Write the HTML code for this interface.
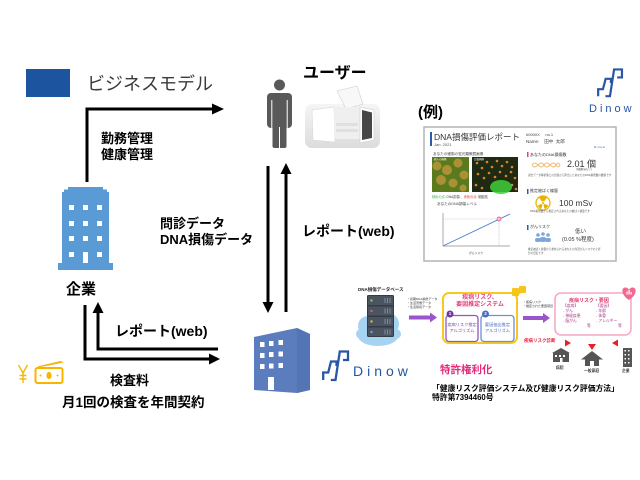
<!DOCTYPE html>
<html><head><meta charset="utf-8">
<style>
html,body{margin:0;padding:0;background:#fff;}
#r{position:relative;width:640px;height:480px;overflow:hidden;background:#fff;font-family:"Liberation Sans","Noto Sans CJK JP",sans-serif;}
.t{position:absolute;white-space:nowrap;line-height:1;color:#000;}
.b{font-weight:bold;}
.c{text-align:center;}
svg{position:absolute;left:0;top:0;}
</style></head><body><div id="r">
<svg width="640" height="480" viewBox="0 0 640 480">
<defs>
<linearGradient id="gbg" x1="0" y1="0" x2="0" y2="1"><stop offset="0" stop-color="#f5f5f5"/><stop offset="1" stop-color="#dcdcdc"/></linearGradient>
</defs>
<rect x="26" y="69" width="44" height="28" fill="#1d54a0"/>

<g stroke="#000" stroke-width="3" fill="none">
<polyline points="87,182 87,109 214,109"/>
<line x1="268" y1="166" x2="268" y2="303"/>
<line x1="286" y1="312" x2="286" y2="174"/>
<polyline points="85,305 85,359 210,359"/>
<polyline points="218,349 98,349 98,312"/>
</g>
<g fill="#000">
<polygon points="212,103.5 224,109 212,114.5"/>
<polygon points="262.5,302 273.5,302 268,313"/>
<polygon points="280.5,174 291.5,174 286,163"/>
<polygon points="209,353.5 220,359 209,364.5"/>
<polygon points="92.5,313 103.5,313 98,302"/>
</g>

<path d="M68,187 H103 V189.5 H107 V192 H109 V263 H113 V270 H58 V263 H62 V192 H64 V189.5 H68 Z" fill="#5b9bd5"/>
<g fill="#fff">
<rect x="69" y="205" width="5" height="5"/><rect x="83" y="205" width="5" height="5"/><rect x="97" y="205" width="5" height="5"/>
<rect x="69" y="221" width="5" height="5"/><rect x="83" y="221" width="5" height="5"/><rect x="97" y="221" width="5" height="5"/>
<rect x="69" y="236" width="5" height="5"/><rect x="83" y="236" width="5" height="5"/><rect x="97" y="236" width="5" height="5"/>
<rect x="69" y="252" width="5" height="5"/><rect x="83" y="252" width="5" height="11"/><rect x="97" y="252" width="5" height="5"/>
</g>

<g fill="#595959">
<circle cx="279.5" cy="85" r="5.5"/>
<rect x="267" y="93" width="25" height="35" rx="4"/>
<rect x="272.5" y="115" width="14" height="33" rx="2"/>
</g>
<g fill="#fff">
<rect x="271.3" y="100" width="1" height="29"/>
<rect x="286.7" y="100" width="1" height="29"/>
<rect x="279" y="127" width="1" height="22"/>
</g>

<rect x="305" y="104" width="75" height="44" rx="7" fill="url(#gbg)"/>
<polygon points="337,91 357,86 363,104 346,109" fill="#f8f8f8" stroke="#cfcfcf" stroke-width="0.6"/>
<polygon points="312,110 334,107 335,142 313,140" fill="#fff" stroke="#d8d8d8" stroke-width="0.6"/>
<rect x="334" y="107" width="26" height="32" fill="#efefef"/>
<rect x="336" y="123" width="22" height="3" fill="#e0e0e0"/>
<rect x="336" y="129" width="22" height="3" fill="#e0e0e0"/>
<polygon points="360,107 374,110 374,140 360,143" fill="#fff" stroke="#cccccc" stroke-width="0.6"/>
<polygon points="362,110 372,112.5 372,138 362,140" fill="#474747"/>

<g stroke="#f7b500" stroke-width="1.4" fill="none">
<polyline points="18.5,365 23,373 27.5,365"/>
<line x1="23" y1="373" x2="23" y2="383"/>
<line x1="19.5" y1="375.5" x2="26.5" y2="375.5"/>
<line x1="19.5" y1="379" x2="26.5" y2="379"/>
<line x1="38" y1="367" x2="61" y2="361.5"/>
<line x1="43" y1="366" x2="63" y2="362"/>
<rect x="35.5" y="368" width="27" height="15" rx="2" stroke-width="2" fill="#fff"/>
</g>
<g fill="#f7b500">
<ellipse cx="49" cy="375.5" rx="2.6" ry="3.6"/>
<circle cx="40.5" cy="375.5" r="1"/><circle cx="57.5" cy="375.5" r="1"/>
</g>

<polygon points="254,337 297,328 310,334 310,390 297,393 254,390" fill="#5b7dbd"/>
<polygon points="297,328 310,334 310,390 297,393" fill="#5474b3"/>
<g fill="#fff">
<rect x="260" y="342" width="4.5" height="5"/><rect x="269" y="341" width="4.5" height="5"/><rect x="278.5" y="340" width="4.5" height="5"/>
<rect x="260" y="353" width="4.5" height="5"/><rect x="269" y="352" width="4.5" height="5"/><rect x="278.5" y="351.5" width="4.5" height="5"/>
<rect x="260" y="364" width="4.5" height="5"/><rect x="269" y="363.5" width="4.5" height="5"/><rect x="278.5" y="363" width="4.5" height="5"/>
<rect x="268" y="377" width="6" height="13"/>
</g>

<g fill="none" stroke="#2957a6" stroke-width="2.3" stroke-linejoin="miter">
<g transform="translate(322,350)">
<path d="M1.2,30 V22.5 H6.2 L9,11.5 H14.5 V16"/>
<path d="M8.8,30 H13.5 L17.8,1.5 H26 V10 H21"/>
</g>
<g transform="translate(597,68) scale(0.96,0.94)">
<path d="M1.2,30 V22.5 H6.2 L9,11.5 H14.5 V16"/>
<path d="M8.8,30 H13.5 L17.8,1.5 H26 V10 H21"/>
</g>
<g transform="translate(599,133) scale(0.38,0.36)" stroke-width="3.5">
<path d="M1.2,30 V22.5 H6.2 L9,11.5 H14.5 V16"/>
<path d="M8.8,30 H13.5 L17.8,1.5 H26 V10 H21"/>
</g>
</g>

<rect x="424" y="127" width="192" height="134" fill="#fff" stroke="#b3b3b3" stroke-width="1.5"/>
<rect x="430" y="132" width="2" height="14" fill="#2a5ca8"/>
<rect x="432" y="157" width="37" height="35" fill="#5a7a1e"/>
<g fill="#c8983e" opacity="0.75">
<circle cx="437" cy="166" r="4.5"/><circle cx="447" cy="170" r="5"/><circle cx="458" cy="163" r="4.5"/>
<circle cx="441" cy="180" r="5"/><circle cx="453" cy="183" r="4.5"/><circle cx="464" cy="175" r="4.5"/><circle cx="463" cy="188" r="3.5"/>
</g>
<rect x="472" y="157" width="46" height="35" fill="#1e2a12"/>
<ellipse cx="501" cy="187" rx="11" ry="7" fill="#3fcf3a" opacity="0.85"/>
<g fill="#d8852c">
<circle cx="477" cy="163" r="1.3"/><circle cx="482" cy="168" r="1.3"/><circle cx="487" cy="162" r="1.3"/><circle cx="492" cy="167" r="1.3"/>
<circle cx="497" cy="161" r="1.3"/><circle cx="502" cy="166" r="1.3"/><circle cx="507" cy="162" r="1.3"/><circle cx="512" cy="167" r="1.3"/>
<circle cx="478" cy="174" r="1.3"/><circle cx="484" cy="178" r="1.3"/><circle cx="489" cy="173" r="1.3"/><circle cx="495" cy="177" r="1.3"/>
<circle cx="500" cy="172" r="1.3"/><circle cx="506" cy="176" r="1.3"/><circle cx="511" cy="172" r="1.3"/><circle cx="515" cy="178" r="1.3"/>
<circle cx="476" cy="185" r="1.3"/><circle cx="482" cy="188" r="1.3"/><circle cx="512" cy="185" r="1.3"/><circle cx="516" cy="189" r="1.3"/>
</g>
<g stroke="#555" stroke-width="0.5">
<line x1="443" y1="213" x2="443" y2="246"/><line x1="443" y1="246" x2="510" y2="246"/>
</g>
<g stroke="#f0a0b8" stroke-width="0.6" stroke-dasharray="1.2,0.8">
<line x1="443" y1="219" x2="499" y2="219"/><line x1="499" y1="219" x2="499" y2="246"/>
</g>
<line x1="443" y1="246" x2="510" y2="214" stroke="#4a7cc8" stroke-width="0.9"/>
<circle cx="499" cy="219" r="2" fill="#f7c5d5" stroke="#e0407a" stroke-width="0.7"/>
<rect x="527" y="152" width="1.5" height="5" fill="#e0407a"/>
<rect x="527" y="189" width="1.5" height="5" fill="#2a5ca8"/>
<rect x="527" y="225" width="1.5" height="5" fill="#2a5ca8"/>
<g fill="none" stroke="#efc070" stroke-width="1">
<path d="M532,165 C536,158 540,172 544,165 C548,158 552,172 556,165 C558,162 559,163 560,165"/>
<path d="M532,165 C536,172 540,158 544,165 C548,172 552,158 556,165 C558,168 559,167 560,165"/>
</g>
<circle cx="543" cy="203" r="7" fill="#fff" stroke="#f0b400" stroke-width="1.3"/>
<g fill="#e8b000">
<path d="M543,203 L539,197.5 A6,6 0 0 1 547,197.5 Z"/>
<path d="M543,203 L548,206 A6,6 0 0 1 544,209 Z" transform="rotate(-5 543 203)"/>
<path d="M543,203 L542,209 A6,6 0 0 1 538,206 Z" transform="rotate(5 543 203)"/>
</g>
<circle cx="543" cy="203" r="1.8" fill="#fff"/>
<circle cx="543" cy="203" r="1" fill="#e8b000"/>
<g fill="#7fa6d9">
<circle cx="538" cy="235" r="1.8"/><circle cx="543" cy="234" r="1.8"/><circle cx="548" cy="235" r="1.8"/>
<rect x="535" y="238" width="6" height="4" rx="2"/><rect x="540" y="237" width="6" height="5" rx="2"/><rect x="545" y="238" width="6" height="4" rx="2"/>
</g>

<g fill="#a7d3f2">
<ellipse cx="378" cy="336" rx="20" ry="10"/>
<circle cx="368" cy="326" r="10"/><circle cx="388" cy="324" r="11"/><circle cx="378" cy="314" r="10"/>
<circle cx="361" cy="334" r="5"/><circle cx="396" cy="334" r="5"/>
</g>
<rect x="367" y="295" width="27" height="42" rx="1.5" fill="#333b45"/>
<g fill="#4b5562">
<rect x="368" y="296" width="25" height="9"/><rect x="368" y="306.5" width="25" height="9"/>
<rect x="368" y="317" width="25" height="9"/><rect x="368" y="327.5" width="25" height="8.5"/>
</g>
<circle cx="371.5" cy="300.5" r="1.2" fill="#7ccf4a"/><circle cx="371.5" cy="311" r="1.2" fill="#e85a5a"/>
<circle cx="371.5" cy="321.5" r="1.2" fill="#f0b020"/><circle cx="371.5" cy="332" r="1.2" fill="#7a9ae0"/>
<g stroke="#aab2bc" stroke-width="0.6">
<path d="M385,298 v5 M387.5,298 v5 M390,298 v5 M385,308.5 v5 M387.5,308.5 v5 M390,308.5 v5 M385,319 v5 M387.5,319 v5 M390,319 v5 M385,329.5 v5 M387.5,329.5 v5 M390,329.5 v5"/>
</g>
<g fill="#9a55cc">
<rect x="409" y="315.5" width="21" height="4"/>
<polygon points="430,312.5 437,317.5 430,322.5"/>
<rect x="523" y="316" width="20" height="4"/>
<polygon points="543,313 550,318 543,323"/>
</g>
<rect x="443" y="293" width="74" height="50" rx="6" fill="#fff" stroke="#f8c820" stroke-width="2"/>
<rect x="446" y="315.5" width="32" height="26" rx="3" fill="#fff" stroke="#8d5bb8" stroke-width="1.3"/>
<rect x="481" y="315.5" width="33" height="26" rx="3" fill="#fff" stroke="#6c8fd6" stroke-width="1.3"/>
<circle cx="450" cy="314" r="3.5" fill="#6b3a9a"/>
<circle cx="485.5" cy="314" r="3.5" fill="#4a6cc0"/>
<g fill="#f7c51a">
<rect x="512" y="288" width="7" height="8" rx="1"/><rect x="519" y="286" width="7" height="7" rx="1"/>
<circle cx="519" cy="292" r="2"/>
</g>
<rect x="555" y="293" width="76" height="42" rx="6" fill="#fff" stroke="#f4a6c6" stroke-width="1.5"/>
<path d="M629,300 C621,295 621,288 625,287.5 C627,287.3 628.5,288.5 629,290 C629.5,288.5 631,287.3 633,287.5 C637,288 637,295 629,300 Z" fill="#f06a90"/>
<g fill="#fff"><rect x="626.5" y="291.5" width="1.2" height="3"/><rect x="628.5" y="290" width="1.2" height="4.5"/><rect x="630.5" y="292" width="1.2" height="2.5"/></g>
<g fill="#e8202a">
<polygon points="565,339.5 571,343 565,346.5"/>
<polygon points="588,344 596,344 592,350"/>
<polygon points="618,339.5 618,346.5 612,343"/>
</g>
<g fill="#555">
<polygon points="561,348 552,353 570,353"/>
<rect x="553" y="353" width="16" height="9"/>
<polygon points="592,351 581,359.5 603,359.5"/>
<rect x="585" y="359" width="14" height="7"/>
<rect x="623" y="348" width="9" height="19"/>
</g>
<g fill="#fff">
<rect x="555" y="355" width="2" height="2"/><rect x="559" y="355" width="2" height="2"/><rect x="563" y="355" width="2" height="2"/>
<rect x="560" y="358" width="2.5" height="4"/>
<rect x="590" y="361" width="4" height="5"/>
<rect x="624.5" y="350" width="1.5" height="1.5"/><rect x="628" y="350" width="1.5" height="1.5"/>
<rect x="624.5" y="354" width="1.5" height="1.5"/><rect x="628" y="354" width="1.5" height="1.5"/>
<rect x="624.5" y="358" width="1.5" height="1.5"/><rect x="628" y="358" width="1.5" height="1.5"/>
<rect x="624.5" y="362" width="1.5" height="1.5"/><rect x="628" y="362" width="1.5" height="1.5"/>
</g>
</svg>

<div class="t" style="left:87px;top:75px;font-size:18px;color:#3a3a3a;">ビジネスモデル</div>
<div class="t b" style="left:101px;top:131.5px;font-size:13px;">勤務管理</div>
<div class="t b" style="left:101px;top:147.5px;font-size:13px;">健康管理</div>
<div class="t b" style="left:160px;top:216.5px;font-size:13px;">問診データ</div>
<div class="t b" style="left:160px;top:232.5px;font-size:13px;">DNA損傷データ</div>
<div class="t b" style="left:303px;top:65.5px;font-size:16px;">ユーザー</div>
<div class="t b" style="left:418px;top:105px;font-size:15px;">(例)</div>
<div class="t b" style="left:302px;top:223.5px;font-size:14px;">レポート(web)</div>
<div class="t b" style="left:66px;top:281.5px;font-size:15px;">企業</div>
<div class="t b" style="left:115px;top:323.5px;font-size:14px;">レポート(web)</div>
<div class="t b" style="left:110px;top:374px;font-size:13px;">検査料</div>
<div class="t b" style="left:62px;top:395.5px;font-size:13.5px;">月1回の検査を年間契約</div>
<div class="t" style="left:353px;top:364px;font-size:14px;letter-spacing:4px;color:#2455a4;">Dinow</div>
<div class="t" style="left:589px;top:103.5px;font-size:11px;letter-spacing:3px;color:#2455a4;">Dinow</div>
<div class="t b" style="left:440px;top:365px;font-size:10.5px;color:#e5287a;">特許権利化</div>
<div class="t b" style="left:432px;top:384.5px;font-size:7.8px;">「健康リスク評価システム及び健康リスク評価方法」</div>
<div class="t b" style="left:432px;top:393.5px;font-size:7.8px;">特許第7394460号</div>

<div class="t" style="left:434px;top:133px;font-size:8.5px;color:#333;">DNA損傷評価レポート</div>
<div class="t" style="left:434px;top:142.5px;font-size:4px;color:#555;">Jan. 2021</div>
<div class="t" style="left:526px;top:133px;font-size:4px;color:#444;">#0000X&nbsp;&nbsp;&nbsp;&nbsp;&nbsp;no.1</div>
<div class="t" style="left:526px;top:140px;font-size:4.5px;color:#444;">Name:&nbsp;&nbsp;&nbsp;&nbsp;田中&nbsp;&nbsp;太郎</div>
<div class="t" style="left:594px;top:146px;font-size:3px;letter-spacing:0.6px;color:#2455a4;">Dinow</div>
<div class="t" style="left:433px;top:152.5px;font-size:3.6px;color:#444;">あなたの細胞の蛍光顕微鏡画像</div>
<div class="t" style="left:434px;top:159px;font-size:2.5px;color:#fff;">個人の画像</div>
<div class="t" style="left:474px;top:159px;font-size:2.5px;color:#fff;">比較画像</div>
<div class="t" style="left:432px;top:195.5px;font-size:3.2px;color:#444;"><span style="color:#3bb03b">緑色の点</span>: DNA損傷 、<span style="color:#e03030">赤色の点</span>: 細胞核</div>
<div class="t" style="left:437px;top:202.5px;font-size:3.6px;color:#444;">あなたのDNA損傷レベル</div>
<div class="t" style="left:469px;top:251.5px;font-size:2.8px;color:#444;">がんリスク</div>
<div class="t" style="left:530px;top:152.5px;font-size:4px;color:#333;">あなたのDNA損傷数</div>
<div class="t" style="left:567px;top:160px;font-size:9px;color:#333;">2.01 個</div>
<div class="t" style="left:576px;top:169px;font-size:2.5px;color:#444;">(1細胞当たり)</div>
<div class="t" style="left:528px;top:175px;font-size:2.6px;color:#555;">過去データ解析値との比較から算出したあなたのDNA損傷数の数値です</div>
<div class="t" style="left:530px;top:189px;font-size:4px;color:#333;">推定被ばく線量</div>
<div class="t" style="left:559px;top:199px;font-size:8.5px;color:#333;">100 mSv</div>
<div class="t" style="left:530px;top:211px;font-size:2.6px;color:#555;">DNA損傷数から推定されるあなたの被ばく線量です</div>
<div class="t" style="left:530px;top:225px;font-size:4px;color:#333;">がんリスク</div>
<div class="t" style="left:575px;top:230px;font-size:5.5px;color:#333;">低い</div>
<div class="t" style="left:562px;top:237.5px;font-size:5.5px;color:#333;">(0.05 %程度)</div>
<div class="t" style="left:528px;top:249px;font-size:2.6px;color:#555;">推定被ばく線量から求められるあなたの生涯がんリスクの上昇</div>
<div class="t" style="left:528px;top:252.5px;font-size:2.6px;color:#555;">分の目安です</div>

<div class="t b" style="left:358px;top:288px;font-size:4.5px;color:#222;">DNA損傷データベース</div>
<div class="t" style="left:407px;top:297.5px;font-size:3px;color:#333;">・初期DNA損傷データ</div>
<div class="t" style="left:407px;top:301.5px;font-size:3px;color:#333;">・生活習慣データ</div>
<div class="t" style="left:407px;top:305.5px;font-size:3px;color:#333;">・生活環境データ</div>
<div class="t b c" style="left:443px;top:295px;width:74px;font-size:6px;color:#e0407a;">疾病リスク、</div>
<div class="t b c" style="left:443px;top:301.5px;width:74px;font-size:6px;color:#e0407a;">要因推定システム</div>
<div class="t b c" style="left:446px;top:312px;width:8px;font-size:4.5px;color:#fff;">1</div>
<div class="t b c" style="left:481.5px;top:312px;width:8px;font-size:4.5px;color:#fff;">2</div>
<div class="t c" style="left:446px;top:323px;width:32px;font-size:4.2px;color:#7a4aa8;">疾病リスク推定</div>
<div class="t c" style="left:446px;top:329px;width:32px;font-size:4.2px;color:#7a4aa8;">アルゴリズム</div>
<div class="t c" style="left:481px;top:323px;width:33px;font-size:4.2px;color:#4a6cc0;">要因抽出推定</div>
<div class="t c" style="left:481px;top:329px;width:33px;font-size:4.2px;color:#4a6cc0;">アルゴリズム</div>
<div class="t" style="left:523px;top:301px;font-size:3px;color:#333;">・疾病リスク</div>
<div class="t" style="left:523px;top:304.5px;font-size:3px;color:#333;">・推定された要因項目</div>
<div class="t b" style="left:569px;top:298.5px;font-size:5px;color:#e03a6a;">疾病リスク・要因</div>
<div class="t" style="left:563px;top:304.5px;font-size:3.8px;color:#a8408a;">【疾病】</div>
<div class="t" style="left:563px;top:309.5px;font-size:3.8px;color:#a8408a;">- がん</div>
<div class="t" style="left:563px;top:314.5px;font-size:3.8px;color:#a8408a;">- 神経疾患</div>
<div class="t" style="left:563px;top:319.5px;font-size:3.8px;color:#a8408a;">- 脳がん</div>
<div class="t" style="left:587px;top:325px;font-size:3.8px;color:#a8408a;">等</div>
<div class="t" style="left:596px;top:304.5px;font-size:3.8px;color:#a8408a;">【要因】</div>
<div class="t" style="left:596px;top:309.5px;font-size:3.8px;color:#a8408a;">- 年齢</div>
<div class="t" style="left:596px;top:314.5px;font-size:3.8px;color:#a8408a;">- 体重</div>
<div class="t" style="left:596px;top:319.5px;font-size:3.8px;color:#a8408a;">- アレルギー</div>
<div class="t" style="left:618px;top:325px;font-size:3.8px;color:#a8408a;">等</div>
<div class="t b" style="left:524px;top:339px;font-size:4.5px;color:#e8203a;">疾病リスク診断</div>
<div class="t b" style="left:556px;top:367px;font-size:3.8px;color:#333;">病院</div>
<div class="t b" style="left:584px;top:370px;font-size:3.8px;color:#333;">一般家庭</div>
<div class="t b" style="left:622px;top:370px;font-size:3.8px;color:#333;">企業</div>
</div></body></html>
